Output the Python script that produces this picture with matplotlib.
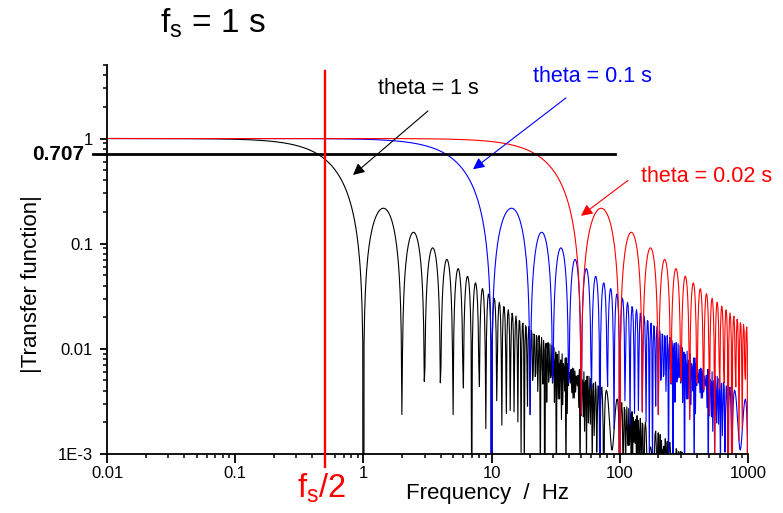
"""|Transfer function| of a boxcar average, fs = 1 s, for three window lengths."""

import numpy as np

import matplotlib
matplotlib.use("Agg")
import matplotlib.pyplot as plt  # noqa: E402
from matplotlib.ticker import FixedLocator, LogLocator, NullFormatter  # noqa: E402

plt.rcParams["font.family"] = ["Liberation Sans", "DejaVu Sans"]
plt.rcParams["mathtext.default"] = "regular"

# window lengths (s) and their colours / labels
thetas = [1.0, 0.1, 0.02]
colors = ["black", "blue", "red"]
labels = ["theta = 1 s", "theta = 0.1 s", "theta = 0.02 s"]

# frequency grid of the original plot (log spaced, 0.01 .. 1000 Hz)
freq = np.logspace(-2, 3, 1001)

nyquist = 0.5          # fs/2 in Hz
half_power = 0.707

xticks = [0.01, 0.1, 1, 10, 100, 1000]
xticklabels = ["0.01", "0.1", "1", "10", "100", "1000"]
yticks = [1e-3, 0.01, 0.1, 1]
yticklabels = ["1E-3", "0.01", "0.1", "1"]

W, H = 783, 513
fig = plt.figure(figsize=(W / 100, H / 100), dpi=100)
ax = fig.add_axes([107 / W, 1 - 454 / H, 641 / W, 389 / H])

for th, c in zip(thetas, colors):
    tf = np.abs(np.sinc(freq * th))
    ax.plot(freq, tf, color=c, lw=0.8)

ax.set_xscale("log")
ax.set_yscale("log")
ax.set_xlim(0.01, 1000)
ax.set_ylim(1e-3, 5)

# reference lines, drawn a bit past the axes like the original
ax.plot([0.0078, 92], [half_power, half_power], color="black", lw=2.0,
        clip_on=False, zorder=5)
ax.plot([nyquist, nyquist], [4.4, 7.5e-4], color="red", lw=1.7,
        clip_on=False, zorder=5)

for s in ("top", "right"):
    ax.spines[s].set_visible(False)
for s in ("left", "bottom"):
    ax.spines[s].set_linewidth(1.3)

ax.xaxis.set_major_locator(FixedLocator(xticks))
ax.set_xticklabels(xticklabels)
ax.yaxis.set_major_locator(FixedLocator(yticks))
ax.set_yticklabels(yticklabels)
ax.xaxis.set_minor_locator(LogLocator(base=10, subs=np.arange(2, 10)))
ax.yaxis.set_minor_locator(LogLocator(base=10, subs=np.arange(2, 10)))
ax.xaxis.set_minor_formatter(NullFormatter())
ax.yaxis.set_minor_formatter(NullFormatter())
ax.tick_params(axis="x", which="major", direction="out", length=6.5,
               width=1.3, labelsize=12, pad=2)
ax.tick_params(axis="y", which="major", direction="out", length=5,
               width=1.3, labelsize=12, pad=5)
ax.tick_params(which="minor", direction="out", length=3, width=1.1)

ax.text(-0.035, half_power, "0.707", transform=ax.get_yaxis_transform(),
        ha="right", va="center", fontsize=15, fontweight="bold")

# annotations with arrows
ann = [((1.30, 3.02), (0.83, 0.45), (3.19, 1.83)),
       ((21.0, 3.85), (7.16, 0.51), (38.0, 2.43)),
       ((146.0, 0.44), (49.8, 0.184), (116.0, 0.40))]
for (txy, head, tail), c, lab in zip(ann, colors, labels):
    ax.text(txy[0], txy[1], lab, color=c, fontsize=15.5, ha="left",
            va="center")
    ax.annotate("", xy=head, xytext=tail,
                arrowprops=dict(arrowstyle="-|>", color=c, lw=0.8,
                                mutation_scale=17, shrinkA=0, shrinkB=0))

fig.text(160 / W, 1 - 33 / H, "$f_s$ = 1 s", fontsize=24, va="baseline")
fig.text(297 / W, 1 - 498 / H, "$f_s$/2", fontsize=23.5, color="red",
         va="baseline")
fig.text(488 / W, 1 - 493 / H, "Frequency  /  Hz", fontsize=16,
         ha="center", va="center")
fig.text(32 / W, 1 - 284 / H, "|Transfer function|", fontsize=16,
         rotation=90, ha="center", va="center")

fig.savefig("out.png", dpi=100)
